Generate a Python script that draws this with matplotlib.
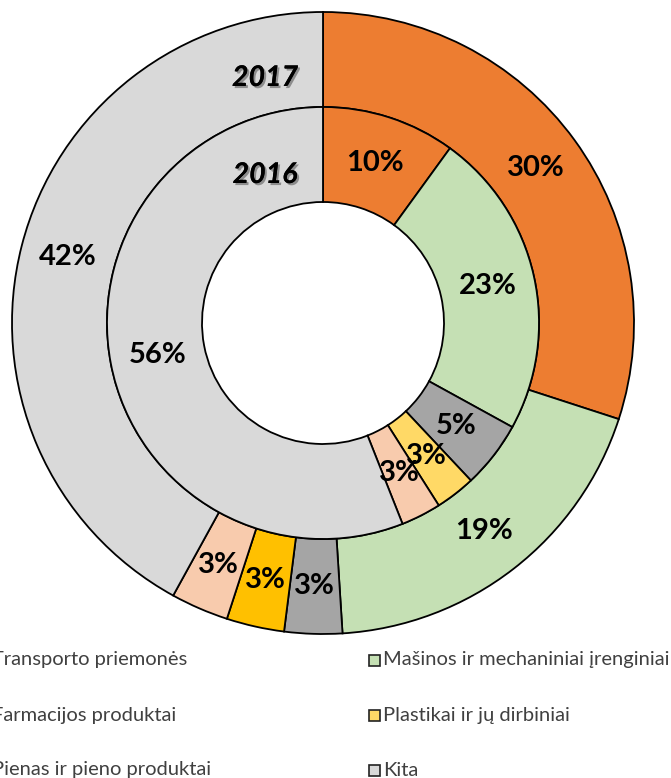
import matplotlib
matplotlib.use("Agg")
import matplotlib.pyplot as plt
import matplotlib.patheffects as pe
import numpy as np

plt.rcParams['font.family'] = ['Lato', 'DejaVu Sans']

# data
categories = ["Transporto priemonės", "Mašinos ir mechaniniai įrenginiai",
              "Farmacijos produktai", "Plastikai ir jų dirbiniai",
              "Pienas ir pieno produktai", "Kita"]
# pie order: transport, masinos, farmacija, plastikai, pienas, kita
outer_2017 = [30, 19, 3, 3, 3, 42]
inner_2016 = [10, 23, 5, 3, 3, 56]
outer_labels = ["30%", "19%", "3%", "3%", "3%", "42%"]
inner_labels = ["10%", "23%", "5%", "3%", "3%", "56%"]

outer_colors = ["#ED7D31", "#C5E0B4", "#A5A5A5", "#FFC000", "#F8CBAD", "#D9D9D9"]
inner_colors = ["#ED7D31", "#C5E0B4", "#A5A5A5", "#FFD966", "#F8CBAD", "#D9D9D9"]

W, H = 671, 778
fig = plt.figure(figsize=(W / 100, H / 100), dpi=100)

cx, cy, R = 323, 323, 311
ax = fig.add_axes([(cx - R) / W, (H - cy - R) / H, 2 * R / W, 2 * R / H])

r_mid = 216 / 311
r_hole = 121 / 311
edge = dict(edgecolor="black", linewidth=1.3)

w_out, _ = ax.pie(outer_2017, radius=1, startangle=90, counterclock=False,
                  colors=outer_colors, wedgeprops=dict(width=1 - r_mid, **edge))
w_in, _ = ax.pie(inner_2016, radius=r_mid, startangle=90, counterclock=False,
                 colors=inner_colors, wedgeprops=dict(width=r_mid - r_hole, **edge))

def put_labels(values, labels, rad):
    start = 90
    total = sum(values)
    for v, lab in zip(values, labels):
        ang = np.deg2rad(start - v / total * 180)
        ax.text(rad * np.cos(ang), rad * np.sin(ang), lab, ha="center", va="center",
                fontsize=21, fontweight="bold", color="black")
        start -= v / total * 360

put_labels(outer_2017, outer_labels, (1 + r_mid) / 2)
put_labels(inner_2016, inner_labels, (r_mid + r_hole) / 2)

shadow = [pe.withSimplePatchShadow(offset=(1.5, -1.5), alpha=0.35), pe.Normal()]
ax.text(-58 / R, (cy - 78) / R, "2017", ha="center", va="center", fontsize=20.5,
        fontweight="bold", fontstyle="italic", path_effects=shadow)
ax.text(-58 / R, (cy - 175) / R, "2016", ha="center", va="center", fontsize=20.5,
        fontweight="bold", fontstyle="italic", path_effects=shadow)

ax.set_xlim(-1, 1)
ax.set_ylim(-1, 1)
ax.set_aspect("equal")
ax.axis("off")

# legend (left column cut off by figure edge, as in the source)
leg_rows = [660, 715, 770]
left_items = [0, 2, 4]
right_items = [1, 3, 5]
leg_colors = ["#ED7D31", "#C5E0B4", "#A5A5A5", "#FFD966", "#F8CBAD", "#D9D9D9"]
for row, li, ri in zip(leg_rows, left_items, right_items):
    y = 1 - row / H
    fig.text(-8 / W, y, categories[li], ha="left", va="center", fontsize=14.5, color="#404040")
    fig.patches.append(plt.Rectangle(((-24) / W, y - 5.5 / H), 11 / W, 11 / H,
                                     transform=fig.transFigure, facecolor=leg_colors[li],
                                     edgecolor="#222222", linewidth=1.2))
    fig.patches.append(plt.Rectangle((369 / W, y - 5.5 / H), 11 / W, 11 / H,
                                     transform=fig.transFigure, facecolor=leg_colors[ri],
                                     edgecolor="#222222", linewidth=1.2))
    fig.text(383 / W, y, categories[ri], ha="left", va="center", fontsize=14.5, color="#404040")

fig.savefig("out.png", dpi=100)
